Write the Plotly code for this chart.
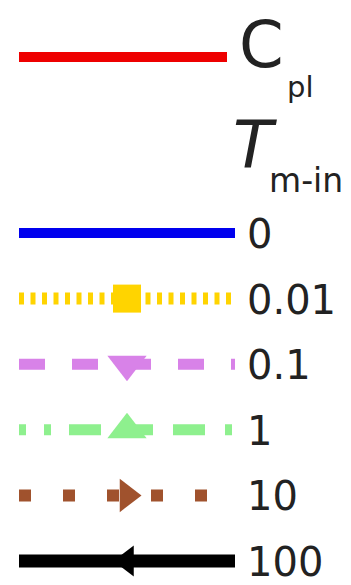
import plotly.graph_objects as go

# Legend content: threshold values and the styling of each curve
tmin_values = ["0", "0.01", "0.1", "1", "10", "100"]
tmin_colors = ["#0000ee", "#ffd400", "#d882e8", "#8ef08e", "#a0522d", "#000000"]
tmin_dashes = [
    "solid",
    "5px,6.5px",
    "26px,27px",
    "7px,18px,7px,18px,32px,20px,32px,20px,32px,20px",
    "12px,32px",
    "solid",
]
tmin_symbols = [None, "square", "triangle-down", "triangle-up", "triangle-right", "triangle-left"]
tmin_widths = [10, 12, 11, 11, 12, 13]
tmin_marker_sizes = [0, 28, 34, 34, 29, 27]

cpl_label = ("C", "pl")
cpl_color = "#ee0000"
tmin_title = ("T", "m-in")

W, H = 351, 585
FONT = "DejaVu Sans"
TEXT_COLOR = "#222222"

# layout of the key (pixel-like axis units)
x_start, x_end = 19, 235
x_mid = (x_start + x_end) / 2
row_y0, row_step = 233, 65.6
cpl_y = 57
label_x = 245

fig = go.Figure()

# red handle for the C_pl entry
fig.add_trace(go.Scatter(
    x=[x_start, 227], y=[cpl_y, cpl_y], mode="lines",
    line=dict(color=cpl_color, width=10), hoverinfo="skip", showlegend=False,
))
fig.add_annotation(x=237, y=84, text=cpl_label[0],
                   xanchor="left", yanchor="bottom", showarrow=False,
                   font=dict(family=FONT, size=64, color=TEXT_COLOR))
fig.add_annotation(x=285, y=106, text=cpl_label[1],
                   xanchor="left", yanchor="bottom", showarrow=False,
                   font=dict(family=FONT, size=29, color=TEXT_COLOR))

# title of the T_m-in group
fig.add_annotation(x=231, y=185, text="<i>" + tmin_title[0] + "</i>",
                   xanchor="left", yanchor="bottom", showarrow=False,
                   font=dict(family=FONT, size=65, color=TEXT_COLOR))
fig.add_annotation(x=267, y=202, text=tmin_title[1],
                   xanchor="left", yanchor="bottom", showarrow=False,
                   font=dict(family=FONT, size=33, color=TEXT_COLOR))

for i, val in enumerate(tmin_values):
    y = row_y0 + i * row_step
    fig.add_trace(go.Scatter(
        x=[x_start, x_end], y=[y, y], mode="lines",
        line=dict(color=tmin_colors[i], width=tmin_widths[i], dash=tmin_dashes[i]),
        hoverinfo="skip", showlegend=False,
    ))
    if tmin_symbols[i]:
        fig.add_trace(go.Scatter(
            x=[x_mid], y=[y], mode="markers",
            marker=dict(symbol=tmin_symbols[i], size=tmin_marker_sizes[i],
                        color=tmin_colors[i], line=dict(width=0)),
            hoverinfo="skip", showlegend=False,
        ))
    fig.add_annotation(x=label_x, y=y + 1, text=val, xanchor="left", yanchor="middle",
                       showarrow=False, font=dict(family=FONT, size=40, color=TEXT_COLOR))

fig.update_layout(
    width=W, height=H, margin=dict(l=0, r=0, t=0, b=0),
    paper_bgcolor="white", plot_bgcolor="white",
    xaxis=dict(range=[0, W], visible=False, fixedrange=True),
    yaxis=dict(range=[H, 0], visible=False, fixedrange=True),
    showlegend=False,
)

fig.write_html("out.html")
